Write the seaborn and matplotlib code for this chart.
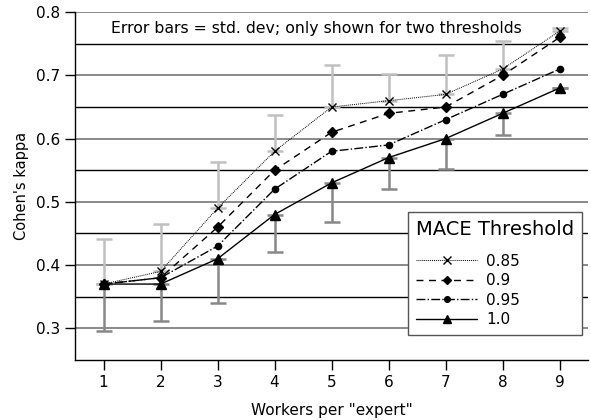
import matplotlib
matplotlib.use("Agg")
import matplotlib.pyplot as plt
import seaborn as sns
import pandas as pd
import numpy as np

workers = [1, 2, 3, 4, 5, 6, 7, 8, 9]
thresholds = ["0.85", "0.9", "0.95", "1.0"]
kappa_085 = [0.37, 0.39, 0.49, 0.58, 0.65, 0.66, 0.67, 0.71, 0.77]
kappa_090 = [0.37, 0.38, 0.46, 0.55, 0.61, 0.64, 0.65, 0.70, 0.76]
kappa_095 = [0.37, 0.38, 0.43, 0.52, 0.58, 0.59, 0.63, 0.67, 0.71]
kappa_100 = [0.37, 0.37, 0.41, 0.48, 0.53, 0.57, 0.60, 0.64, 0.68]
std_085 = [0.071, 0.075, 0.073, 0.058, 0.067, 0.042, 0.062, 0.045, 0.005]
std_100 = [0.075, 0.058, 0.070, 0.060, 0.062, 0.050, 0.048, 0.035, 0.0]

sns.set_theme(style="white")
plt.rcParams['font.family'] = ['DejaVu Sans']
for k in ["text.color", "axes.labelcolor", "xtick.color", "ytick.color"]:
    plt.rcParams[k] = "black"

fig = plt.figure(figsize=(5.91, 4.2), dpi=100)
ax = fig.add_axes([0.127, 0.143, 0.868, 0.828])

series = [kappa_085, kappa_090, kappa_095, kappa_100]
df = pd.DataFrame({
    "workers": workers * 4,
    "kappa": sum(series, []),
    "threshold": sum([[t] * len(workers) for t in thresholds], []),
})

styles = {
    "0.85": dict(ls=(0, (1, 1)), marker="x", ms=6, lw=0.7, mew=1.0),
    "0.9": dict(ls=(0, (5, 4)), marker="D", ms=5, lw=1.0, mew=1.0),
    "0.95": dict(ls="-.", marker="o", ms=4.5, lw=1.0, mew=1.0),
    "1.0": dict(ls="-", marker="^", ms=6.5, lw=1.0, mew=1.0),
}

# error bars (one-sided)
ax.errorbar(workers, kappa_100, yerr=[std_100, [0] * 9], fmt="none",
            ecolor="#888888", elinewidth=1.8, capsize=6, capthick=1.8, zorder=2)
ax.errorbar(workers, kappa_085, yerr=[[0] * 9, std_085], fmt="none",
            ecolor="#c0c0c0", elinewidth=1.8, capsize=6, capthick=1.8, zorder=2)

for t in thresholds:
    s = styles[t]
    sub = df[df.threshold == t]
    sns.lineplot(data=sub, x="workers", y="kappa", ax=ax, color="black",
                 linestyle=s["ls"], marker=s["marker"], markersize=s["ms"],
                 linewidth=s["lw"], markeredgewidth=s["mew"],
                 markeredgecolor="black", markerfacecolor="black",
                 label=t, zorder=3)

ax.set_xlim(0.5, 9.5)
ax.set_ylim(0.25, 0.8)
ax.set_xticks(workers)
ax.set_yticks([0.3, 0.4, 0.5, 0.6, 0.7, 0.8])
ax.set_yticks([0.35, 0.45, 0.55, 0.65, 0.75], minor=True)
ax.grid(True, axis="y", which="major", color="#777777", lw=1.2, zorder=0)
ax.grid(True, axis="y", which="minor", color="black", lw=1.0, zorder=0)
ax.set_axisbelow(True)

for sp in ["top", "right"]:
    ax.spines[sp].set_visible(False)
for sp in ["left", "bottom"]:
    ax.spines[sp].set_color("black")
    ax.spines[sp].set_linewidth(1.0)

ax.tick_params(axis="both", which="major", direction="out", length=7,
               width=1, color="black", labelsize=11, left=True, bottom=True,
               pad=4)
ax.tick_params(axis="y", which="minor", left=False)

ax.set_xlabel('Workers per "expert"', fontsize=11, labelpad=9)
ax.set_ylabel("Cohen's kappa", fontsize=10.5, labelpad=4.5)

ax.text(0.47, 0.953, "Error bars = std. dev; only shown for two thresholds",
        transform=ax.transAxes, ha="center", va="center", fontsize=11.3)

leg = ax.legend(title="MACE Threshold", loc="lower right",
                bbox_to_anchor=(0.988, 0.072), borderaxespad=0,
                fontsize=11, title_fontsize=14, frameon=True,
                fancybox=False, framealpha=1, edgecolor="#555555",
                handlelength=4.0, labelspacing=0.3, borderpad=0.5,
                handletextpad=0.6, markerscale=0.9)
leg.get_frame().set_linewidth(1.0)
leg._legend_box.align = "left"
leg._legend_box.sep = 10.5

fig.savefig("out.png", dpi=100)
